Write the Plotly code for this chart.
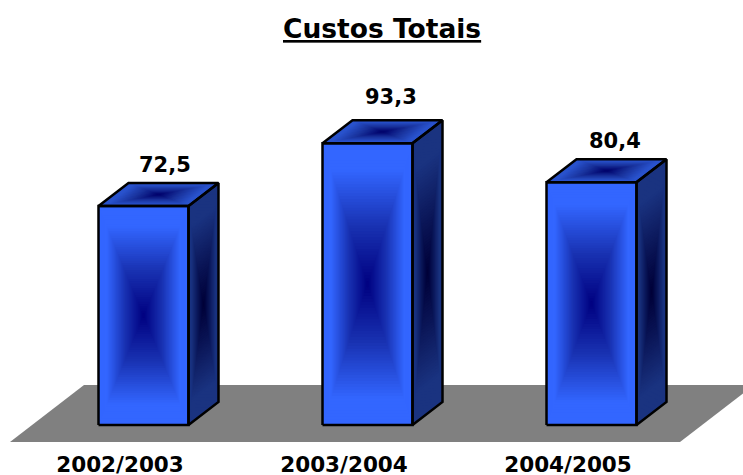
import plotly.graph_objects as go

categories = ["2002/2003", "2003/2004", "2004/2005"]
values = [72.5, 93.3, 80.4]
value_labels = ["72,5", "93,3", "80,4"]
title_text = "Custos Totais"

W, H = 743, 475
BOTTOM_MARGIN = 30
PX_PER_UNIT = 3.02
PX_PER_CAT = 224.0
X0_PX, Y0_PX = 143.5, 425.0

xr = [(0 - X0_PX) / PX_PER_CAT, (W - X0_PX) / PX_PER_CAT]
yr = [(Y0_PX - (H - BOTTOM_MARGIN)) / PX_PER_UNIT, Y0_PX / PX_PER_UNIT]

BAR_W = 90 / PX_PER_CAT
DX = 30 / PX_PER_CAT
DY = 23 / PX_PER_UNIT
LEVELS = 48


def lerp(a, b, t):
    return tuple(a[k] + (b[k] - a[k]) * t for k in range(3))


def ramp(stops, t):
    for (t0, c0), (t1, c1) in zip(stops, stops[1:]):
        if t <= t1:
            c = lerp(c0, c1, (t - t0) / (t1 - t0))
            return "rgb(%d,%d,%d)" % c
    c = stops[-1][1]
    return "rgb(%d,%d,%d)" % c


FRONT = [(0, (0, 0, 128)), (0.42, (25, 50, 178)), (0.82, (51, 102, 255)), (1, (51, 102, 255))]
SIDE = [(0, (0, 0, 55)), (0.35, (10, 20, 85)), (0.8, (26, 51, 128)), (1, (26, 51, 128))]
TOP = [(0, (0, 0, 105)), (0.45, (25, 50, 155)), (0.85, (41, 82, 204)), (1, (41, 82, 204))]

fig = go.Figure()


def poly(xs, ys, fill=None, line=None, lw=0):
    fig.add_trace(go.Scatter(
        x=list(xs) + [xs[0]], y=list(ys) + [ys[0]], mode="lines",
        fill="toself" if fill else None, fillcolor=fill,
        line=dict(color=line or "rgba(0,0,0,0)", width=lw, dash="solid"),
        hoverinfo="skip", showlegend=False))


def gradient(xs, ys, stops):
    cx, cy = sum(xs) / 4, sum(ys) / 4
    for n in range(LEVELS, 0, -1):
        t = n / LEVELS
        poly([cx + (a - cx) * t for a in xs], [cy + (b - cy) * t for b in ys], fill=ramp(stops, t))


# floor
fl_l = (10 - X0_PX) / PX_PER_CAT
fl_r = (680 - X0_PX) / PX_PER_CAT
fl_b = (Y0_PX - 442) / PX_PER_UNIT
fl_t = (Y0_PX - 385) / PX_PER_UNIT
sk = 74 / PX_PER_CAT
poly([fl_l, fl_r, fl_r + sk, fl_l + sk], [fl_b, fl_b, fl_t, fl_t], fill="#808080")

for i, v in enumerate(values):
    l, r = i - BAR_W / 2, i + BAR_W / 2
    front = ([l, r, r, l], [0, 0, v, v])
    side = ([r, r + DX, r + DX, r], [0, DY, v + DY, v])
    top = ([l, r, r + DX, l + DX], [v, v, v + DY, v + DY])
    gradient(*side, SIDE)
    gradient(*top, TOP)
    gradient(*front, FRONT)
    for face in (side, top, front):
        poly(*face, line="#000000", lw=2.5)

FONT = "DejaVu Sans"
lifts = [41, 46, 41]
label_dx = [21, 23, 23]
annotations = [dict(x=i, y=v, xref="x", yref="y", text="<b>%s</b>" % value_labels[i],
                    showarrow=False, xshift=label_dx[i], yshift=lifts[i],
                    font=dict(family=FONT, size=21, color="#000000"))
               for i, v in enumerate(values)]
annotations.append(dict(x=382 / W, y=1 - 29 / (H - BOTTOM_MARGIN), xref="paper", yref="paper",
                        xanchor="center", yanchor="middle",
                        text="<b><u>%s</u></b>" % title_text, showarrow=False,
                        font=dict(family=FONT, size=26.5, color="#000000")))

fig.update_layout(
    width=W, height=H, margin=dict(l=0, r=0, t=0, b=BOTTOM_MARGIN),
    paper_bgcolor="#ffffff", plot_bgcolor="#ffffff", showlegend=False,
    annotations=annotations,
    xaxis=dict(range=xr, tickmode="array", tickvals=[i - 23.5 / PX_PER_CAT for i in range(3)],
               ticktext=["<b>%s</b>" % c for c in categories], showgrid=False, zeroline=False,
               showline=False, ticks="", ticklabelstandoff=4, automargin=False,
               tickfont=dict(family=FONT, size=21.5, color="#000000")),
    yaxis=dict(range=yr, visible=False, showgrid=False, zeroline=False),
)

fig.write_html("out.html", config=dict(displayModeBar=False),
               post_script="document.body.style.margin='0';document.body.style.overflow='hidden';")
